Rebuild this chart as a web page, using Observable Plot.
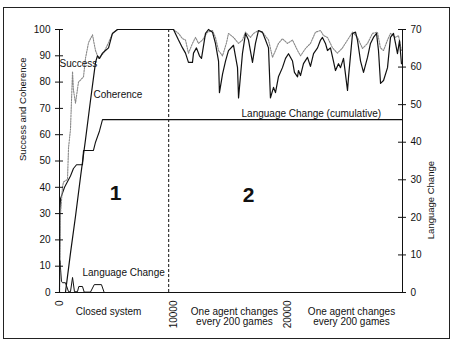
<!DOCTYPE html>
<html><head><meta charset="utf-8">
<script src="https://cdn.jsdelivr.net/npm/d3@7"></script>
<script src="https://cdn.jsdelivr.net/npm/@observablehq/plot@0.6"></script>
<style>
html,body{margin:0;padding:0;background:#fff;}
#wrap{position:relative;width:454px;height:344px;overflow:hidden;}
#border{position:absolute;left:3px;top:7px;width:445px;height:330px;border:1px solid #222;}
#wrap svg{position:absolute;left:0;top:0;}
</style></head>
<body><div id="wrap"><div id="border"></div></div>
<script>
// games played (x) vs percentage (left axis)
const successPts = [[0,0],[90,30],[260,40],[350,42],[700,43],[790,55],[960,62],[1140,84],[1220,77],[1400,72],[1660,80],[2100,82],[2270,89],[2540,95],[2890,98],[2970,96],[3150,92],[3410,89],[3850,91],[4290,95],[4630,98.5],[5070,100],[9970,100],
[10410,98.5],[10760,96.5],[11020,96],[11280,91],[11630,94.7],[11900,97],[12160,94.7],[12510,96],[12940,99],[13380,99.6],[13640,97],[13910,92],[14260,90],[14610,95],[14780,98.5],[15220,97],[15660,94.7],[16000,96],[16270,99],[16700,97],[16970,98.5],[17400,99.6],[17840,98.5],[18280,96],[18630,89.4],[18890,92],[19150,94.7],[19500,96.5],[19940,94.7],[20380,96],[20820,92],[21080,90],[21520,92.8],[21950,94.7],[22390,99],[22830,99.6],[23090,97.7],[23440,97],[23880,93],[24310,91],[24750,93],[25190,96],[25630,99],[26060,97],[26500,92.8],[26940,94.7],[27370,98.5],[27810,99],[28070,93],[28340,92],[28690,96],[28950,98.5],[29390,97],[29650,97.7],[29910,92]];

const coherencePts = [[0,0],[520,0],[960,15],[1400,29],[1840,44],[2270,58],[2710,73],[3150,87.5],[3320,90],[3500,89],[3760,91],[4020,92],[4290,93],[4630,98.5],[5070,100],[9970,100],
[10410,96],[10760,93],[11020,91],[11280,87.5],[11630,87.5],[11720,91],[11980,93],[12240,90],[12420,89],[12770,98.5],[13030,100],[13380,99],[13640,94.7],[13910,88],[13990,76],[14260,83],[14520,88],[14780,92],[15220,94],[15570,85.5],[15660,74],[16000,90.8],[16270,98.5],[16530,96],[16880,87.5],[17140,94.7],[17400,99.6],[17750,99],[18020,96],[18280,93],[18450,74],[18720,78],[18890,76],[19150,82],[19500,85.5],[19770,89],[20030,90.8],[20380,88],[20550,83.7],[20820,82],[20900,84.4],[21080,82.5],[21340,87],[21690,89.4],[21950,86],[22220,90.8],[22570,93],[22830,96],[23000,97],[23260,94.7],[23440,92],[23700,93],[23960,88],[24140,84.4],[24400,87],[24580,85.5],[24840,89],[25190,76.8],[25280,82],[25630,98.5],[25890,99],[26060,96],[26330,88],[26590,83.7],[26940,89.4],[27200,94.7],[27460,97],[27730,98.5],[27900,92],[28080,79.5],[28340,80.6],[28690,85.5],[28950,97],[29210,98.5],[29390,94.7],[29560,90.8],[29740,95.8],[29910,87]];

// language change (right axis, 0-70)
const lcCumulativePts = [[0,0],[30,20],[90,25],[440,28],[960,31],[1220,33],[1490,34],[2010,34],[2100,37.8],[2970,37.8],[3150,40],[3500,43],[3760,46],[30000,46]];
const lcIntervalPts = [[0,6],[40,8.5],[170,3],[260,2.6],[520,2.6],[790,0.2],[960,0.2],[1140,4],[1310,0.2],[1570,0.2],[1690,1.6],[2010,1.6],[2160,0.1],[2710,0.1],[3040,2.1],[3670,2.1],[3910,0],[30000,0]];

const phaseBoundary = [9550];
const xDomain = [0, 30000];
const xTicks = [0, 10000, 20000];
const leftTicks = [0,10,20,30,40,50,60,70,80,90,100];
const rightTicks = [0,10,20,30,40,50,60,70];
const rightMax = 70;

const annotations = [
  {x: 0, y: 87, text: "Success"},
  {x: 2970, y: 75, text: "Coherence"},
  {x: 15920, y: 68, text: "Language Change (cumulative)"},
  {x: 2010, y: 7.6, text: "Language Change"}
];
const phaseNumbers = [{x: 4900, y: 37.6, text: "1"}, {x: 16530, y: 37, text: "2"}];
const phaseLabels = [
  {x: 4290, text: "Closed system"},
  {x: 15300, text: "One agent changes\nevery 200 games"},
  {x: 25540, text: "One agent changes\nevery 200 games"}
];
const leftTitle = ["Success and Coherence"];
const rightTitle = ["Language Change"];

const toLeft = v => v * 100 / rightMax;
const plotW = 454 - 59 - 52;

const chart = Plot.plot({
  width: 454, height: 344,
  marginLeft: 59, marginRight: 52, marginTop: 29, marginBottom: 52,
  style: {fontFamily: "'Liberation Sans', Arial, sans-serif", fontSize: "10px", background: "transparent", color: "#111"},
  x: {domain: xDomain, axis: null},
  y: {domain: [0, 100], axis: null},
  marks: [
    Plot.ruleX(phaseBoundary, {y1: 0, y2: 100, stroke: "#111", strokeDasharray: "3,2"}),
    Plot.line(lcIntervalPts, {x: d => d[0], y: d => toLeft(d[1]), stroke: "#111", strokeWidth: 1}),
    Plot.line(lcCumulativePts, {x: d => d[0], y: d => toLeft(d[1]), stroke: "#111", strokeWidth: 1.1}),
    Plot.line(successPts, {x: d => d[0], y: d => d[1], stroke: "#888", strokeWidth: 1.1, strokeDasharray: "1.5,1.2"}),
    Plot.line(coherencePts, {x: d => d[0], y: d => d[1], stroke: "#111", strokeWidth: 1.2}),
    Plot.ruleX([xDomain[0], xDomain[1]], {stroke: "#111"}),
    Plot.ruleY([0], {stroke: "#111"}),
    Plot.tickY(leftTicks, {y: d => d, insetRight: plotW - 8, dx: -4, stroke: "#111"}),
    Plot.tickY(rightTicks, {y: d => toLeft(d), insetLeft: plotW - 8, dx: 4, stroke: "#111"}),
    Plot.axisY({anchor: "left", ticks: leftTicks, tickSize: 0, tickPadding: 9, label: null, tickFormat: d => String(d), fontSize: 10}),
    Plot.axisY({anchor: "right", ticks: rightTicks.map(toLeft), tickSize: 0, tickPadding: 8, label: null, tickFormat: d => String(Math.round(d * rightMax / 100)), fontSize: 10}),
    Plot.axisX({anchor: "bottom", ticks: xTicks, tickSize: 0, tickPadding: 8, tickRotate: -90, label: null, tickFormat: d => String(d), fontSize: 10}),
    Plot.text(annotations, {x: "x", y: "y", text: "text", textAnchor: "start", fontSize: 10, fill: "#111"}),
    Plot.text(phaseNumbers, {x: "x", y: "y", text: "text", fontSize: 21, fontWeight: "bold", fill: "#111"}),
    Plot.text(phaseLabels, {x: "x", text: "text", frameAnchor: "bottom", lineAnchor: "top", dy: 15, lineHeight: 1.05, fontSize: 10, fill: "#111"}),
    Plot.text(leftTitle, {frameAnchor: "left", dx: -37, rotate: -90, fontSize: 9.5, fill: "#111"}),
    Plot.text(rightTitle, {frameAnchor: "right", dx: 28, rotate: -90, fontSize: 9.5, fill: "#111"})
  ]
});
document.getElementById("wrap").appendChild(chart);
</script>
</body></html>
